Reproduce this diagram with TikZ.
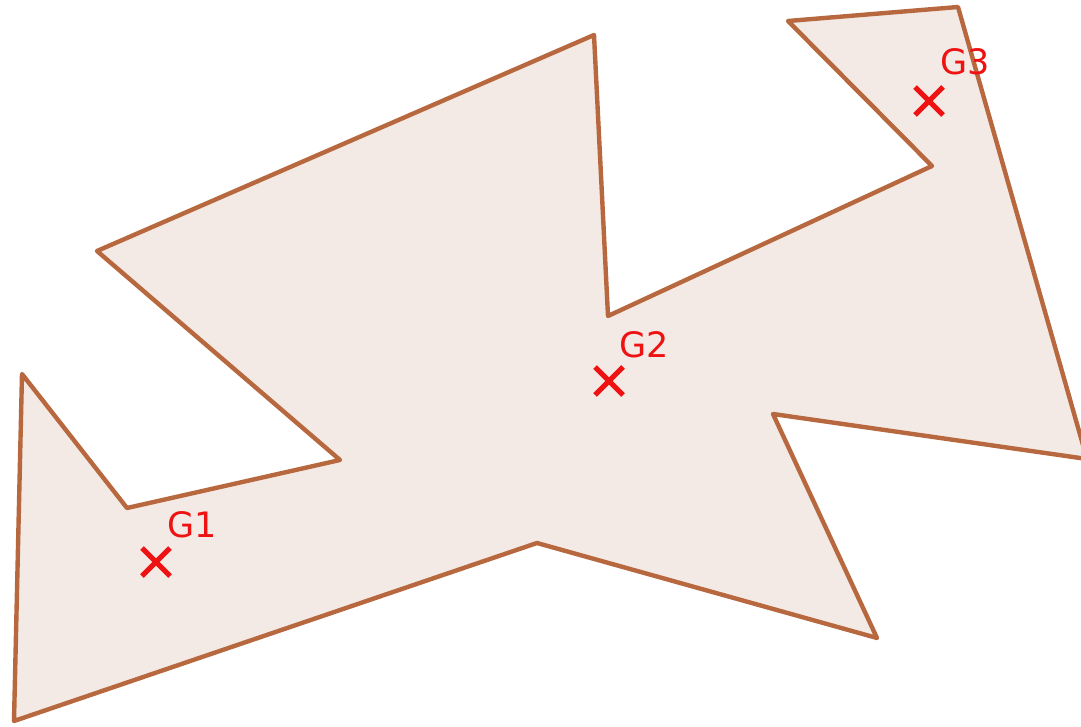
\documentclass[tikz,border=0pt]{standalone}
\usepackage{fontspec}
\setmainfont{DejaVu Sans}
\definecolor{edge}{RGB}{184,104,62}
\definecolor{fillc}{RGB}{243,234,229}
\definecolor{mark}{RGB}{238,18,18}
\tikzset{
  poly/.style={draw=edge, fill=fillc, line width=4.4pt, line join=round},
  cross/.style={draw=mark, line width=5pt},
  lab/.style={text=mark, font=\fontsize{35}{35}\selectfont, inner sep=0pt}
}
\begin{document}
\begin{tikzpicture}[x=1pt,y=-1pt]
\useasboundingbox (0,0) rectangle (1081,727);
\clip (0,0) rectangle (1081,727);
\coordinate (A) at (22,374);
\coordinate (B) at (127,508);
\coordinate (C) at (340,460);
\coordinate (D) at (97,251);
\coordinate (E) at (594,35);
\coordinate (F) at (608,316);
\coordinate (H) at (932,166);
\coordinate (I) at (788,21);
\coordinate (J) at (958,7);
\coordinate (K) at (1087,459);
\coordinate (L) at (773,414);
\coordinate (M) at (877,638);
\coordinate (N) at (537,543);
\coordinate (O) at (14,721);
\draw[poly] (A) -- (B) -- (C) -- (D) -- (E) -- (F) -- (H) -- (I) -- (J) -- (K) -- (L) -- (M) -- (N) -- (O) -- cycle;
% crosses
\foreach \n/\x/\y in {g1/156/562, g2/609/381, g3/929/101} {
  \coordinate (\n) at (\x,\y);
  \draw[cross] ([shift={(-14,-14)}]\n) -- ([shift={(14,14)}]\n);
  \draw[cross] ([shift={(-14,14)}]\n) -- ([shift={(14,-14)}]\n);
}
\node[lab] (t1) at (192,525) {G1};
\node[lab] (t2) at (644,345) {G2};
\node[lab] (t3) at (965,62) {G3};
\end{tikzpicture}
\end{document}
